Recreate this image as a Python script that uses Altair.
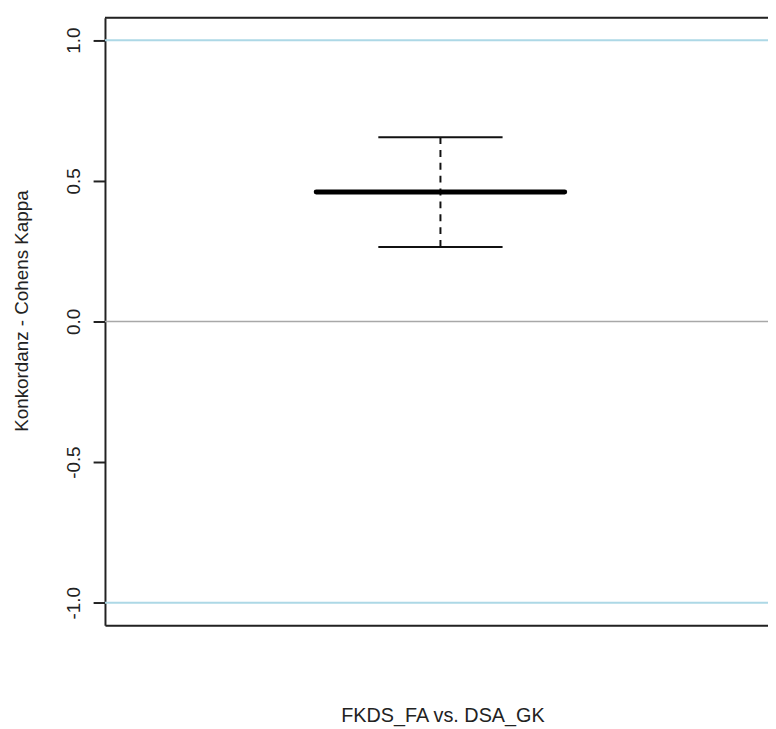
import altair as alt
import pandas as pd

# ---- data ----
groups = ["FKDS_FA vs. DSA_GK"]
positions = [1.0]
medians = [0.46]
lower_whisker = [0.265]
upper_whisker = [0.655]
ref_blue_values = [1.0, -1.0]
ref_gray_values = [0.0]
y_ticks = [-1.0, -0.5, 0.0, 0.5, 1.0]

# ---- layout / style ----
W, H = 670, 614
BOX_HALF = 0.2
STAPLE_HALF = 0.1
X_DOMAIN = [0.46, 0.46 + 1.08 * 670 / 678]
Y_DOMAIN = [-1.08, 1.08]
FONT = "Liberation Sans"

stats = pd.DataFrame({
    "group": groups,
    "pos": positions,
    "median": medians,
    "lo": lower_whisker,
    "hi": upper_whisker,
})
stats["box_l"] = stats["pos"] - BOX_HALF
stats["box_r"] = stats["pos"] + BOX_HALF
stats["st_l"] = stats["pos"] - STAPLE_HALF
stats["st_r"] = stats["pos"] + STAPLE_HALF

staples = pd.concat([
    stats[["st_l", "st_r"]].assign(v=stats["lo"]),
    stats[["st_l", "st_r"]].assign(v=stats["hi"]),
], ignore_index=True)

xscale = alt.Scale(domain=X_DOMAIN, nice=False, zero=False)
yscale = alt.Scale(domain=Y_DOMAIN, nice=False, zero=False)

yaxis = alt.Axis(
    values=y_ticks,
    labelExpr="replace(format(datum.value, '.1f'), '\u2212', '-')",
    labelAngle=-90, labelAlign="center",
    labelBaseline="alphabetic", labelPadding=14, labelFont=FONT,
    labelFontSize=19, labelColor="#222222", tickSize=12, tickWidth=2,
    tickColor="#222222", domainColor="#222222", domainWidth=2, grid=False,
    title="Konkordanz - Cohens Kappa", titleFont=FONT, titleFontSize=19,
    titleFontWeight="normal", titleColor="#222222", titleAngle=-90,
    titleX=-78, titleY=296, titleAlign="center", titleBaseline="alphabetic",
)
xaxis = alt.Axis(
    ticks=False, labels=False, grid=False, domain=True, domainColor="#222222",
    domainWidth=2, title=groups[0], titleFont=FONT, titleFontSize=20,
    titleFontWeight="normal", titleColor="#222222", titleX=341, titleY=97,
    titleAlign="center", titleBaseline="alphabetic",
)

blue_df = pd.DataFrame({"v": ref_blue_values})
gray_df = pd.DataFrame({"v": ref_gray_values})

blue = alt.Chart(blue_df).mark_rule(color="#add8e6", strokeWidth=2).encode(
    y=alt.Y("v:Q", scale=yscale, axis=yaxis)
)
gray = alt.Chart(gray_df).mark_rule(color="#a8a8a8", strokeWidth=1.5).encode(
    y=alt.Y("v:Q", scale=yscale)
)
whisker = alt.Chart(stats).mark_rule(
    color="#111111", strokeWidth=2, strokeDash=[7, 6]
).encode(
    x=alt.X("pos:Q", scale=xscale, axis=xaxis),
    y=alt.Y("lo:Q", scale=yscale),
    y2="hi:Q",
)
staple = alt.Chart(staples).mark_rule(color="#111111", strokeWidth=2).encode(
    x=alt.X("st_l:Q", scale=xscale),
    x2="st_r:Q",
    y=alt.Y("v:Q", scale=yscale),
)
median = alt.Chart(stats).mark_rule(
    color="#000000", strokeWidth=5, strokeCap="round"
).encode(
    x=alt.X("box_l:Q", scale=xscale),
    x2="box_r:Q",
    y=alt.Y("median:Q", scale=yscale),
)
top_frame = alt.Chart(stats).mark_rule(color="#222222", strokeWidth=2).encode(
    x=alt.value(0), x2=alt.value(W), y=alt.value(0)
)

chart = alt.layer(blue, gray, whisker, staple, median, top_frame).properties(
    width=W, height=H,
    autosize=alt.AutoSizeParams(type="none"),
    padding={"left": 98, "top": 6, "right": 0, "bottom": 100},
).configure_view(stroke=None).configure(background="white")

chart.save("out.html", embed_options={"renderer": "svg", "actions": False})
